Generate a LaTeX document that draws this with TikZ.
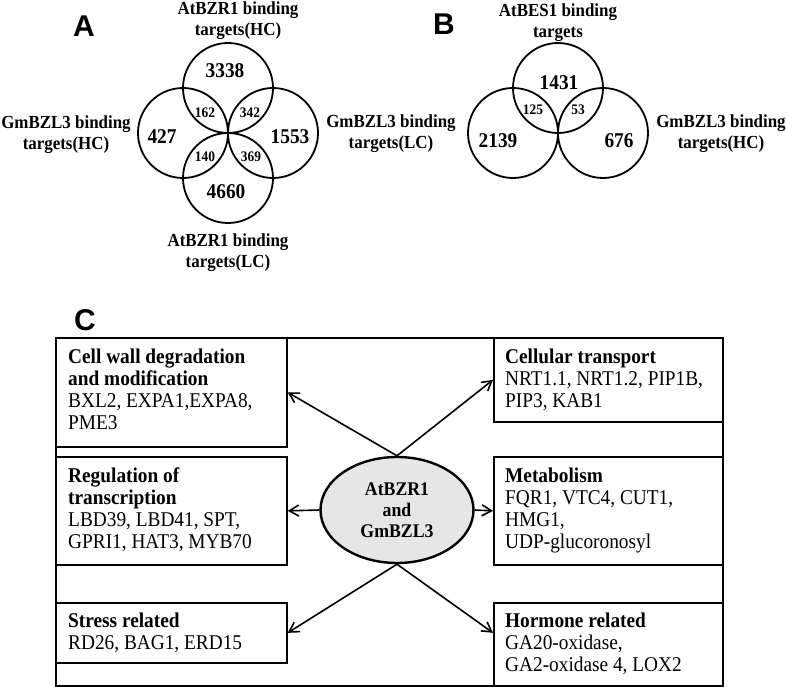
\documentclass[tikz,border=0pt]{standalone}
\usepackage{fontspec}
\setmainfont{Liberation Serif}[FakeStretch=0.92]
\newfontfamily\labsans{Liberation Sans}
\usetikzlibrary{arrows.meta,shapes.geometric}
\definecolor{ellfill}{HTML}{E6E6E6}
\tikzset{
  venn/.style={circle, draw, line width=1.8pt, minimum size=90pt, inner sep=0pt},
  setlabel/.style={font=\bfseries\fontsize{18.4}{21}\selectfont, align=center, inner sep=0pt},
  bignum/.style={font=\bfseries\fontsize{21}{22}\selectfont, inner sep=0pt},
  smallnum/.style={font=\bfseries\fontsize{14.6}{16}\selectfont, inner sep=0pt},
  panel/.style={font=\labsans\bfseries\fontsize{30}{32}\selectfont, inner sep=0pt},
  catbox/.style={draw, line width=1.7pt, rectangle, inner sep=0pt, anchor=north west},
  cattext/.style={font=\fontsize{21}{22}\selectfont, align=left, inner sep=0pt, anchor=north west},
  hub/.style={ellipse, draw, line width=2.4pt, fill=ellfill, minimum width=153pt, minimum height=106pt, inner sep=0pt,
    font=\bfseries\fontsize{19.3}{21}\selectfont, align=center},
  arr/.style={line width=1.6pt, -{Straight Barb[angle=60:11pt, line width=1.6pt]}}
}
\newcommand{\firststrut}{\rule{0pt}{15.5pt}}
\begin{document}
\begin{tikzpicture}[x=1pt, y=-1pt]
\useasboundingbox (0,0) rectangle (787,687);

% ---------- Panel A ----------
\node[panel] (pa) at (84,26) {A};
\node[venn] (atop) at (228,88) {};
\node[venn] (aleft) at (183,133) {};
\node[venn] (aright) at (273,133) {};
\node[venn] (abot) at (228,178) {};
\node[setlabel] (latop) at (238,20.5) {AtBZR1 binding\\targets(HC)};
\node[setlabel] (laleft) at (66,135) {GmBZL3 binding\\targets(HC)};
\node[setlabel] (laright) at (391,134) {GmBZL3 binding\\targets(LC)};
\node[setlabel] (labot) at (228,253) {AtBZR1 binding\\targets(LC)};
\node[bignum] (n3338) at (225,71) {3338};
\node[bignum] (n427) at (162,137) {427};
\node[bignum] (n1553) at (290,137) {1553};
\node[bignum] (n4660) at (226,192) {4660};
\node[smallnum] (n162) at (205,113) {162};
\node[smallnum] (n342) at (250,113) {342};
\node[smallnum] (n140) at (205,157) {140};
\node[smallnum] (n369) at (251,157) {369};

% ---------- Panel B ----------
\node[panel] (pb) at (444,24) {B};
\node[venn] (btop) at (558,88) {};
\node[venn] (bleft) at (513,133) {};
\node[venn] (bright) at (603,133) {};
\node[setlabel] (lbtop) at (558,23) {AtBES1 binding\\targets};
\node[setlabel] (lbright) at (721,134) {GmBZL3 binding\\targets(HC)};
\node[bignum] (n1431) at (559,83) {1431};
\node[bignum] (n2139) at (498,141) {2139};
\node[bignum] (n676) at (619,141) {676};
\node[smallnum] (n125) at (533,110) {125};
\node[smallnum] (n53) at (578,110) {53};

% ---------- Panel C ----------
\node[panel] (pc) at (85,320) {C};
\node[catbox, minimum width=667pt, minimum height=348pt] (outer) at (55,337) {};

\node[catbox, minimum width=231pt, minimum height=109pt] (tl) at (55,337) {};
\node[catbox, minimum width=231pt, minimum height=108pt] (ml) at (55,456) {};
\node[catbox, minimum width=231pt, minimum height=60pt] (bl) at (55,602) {};
\node[catbox, minimum width=229pt, minimum height=84pt] (tr) at (493,337) {};
\node[catbox, minimum width=229pt, minimum height=108pt] (mr) at (493,456) {};
\node[catbox, minimum width=229pt, minimum height=83pt] (br) at (493,602) {};

\node[cattext] (ttl) at (68,347.5) {\firststrut\textbf{Cell wall degradation}\\\textbf{and modification}\\BXL2, EXPA1,EXPA8,\\PME3};
\node[cattext] (tml) at (68,466.5) {\firststrut\textbf{Regulation of}\\\textbf{transcription}\\LBD39, LBD41, SPT,\\GPRI1, HAT3, MYB70};
\node[cattext] (tbl) at (68,611.5) {\firststrut\textbf{Stress related}\\RD26, BAG1, ERD15};
\node[cattext] (ttr) at (505,347.5) {\firststrut\textbf{Cellular transport}\\NRT1.1, NRT1.2, PIP1B,\\PIP3, KAB1};
\node[cattext] (tmr) at (505,466.5) {\firststrut\textbf{Metabolism}\\FQR1, VTC4, CUT1,\\HMG1,\\UDP-glucoronosyl};
\node[cattext] (tbr) at (505,611.5) {\firststrut\textbf{Hormone related}\\GA20-oxidase,\\GA2-oxidase 4, LOX2};

\node[hub] (hub) at (397,510) {AtBZR1\\and\\GmBZL3};

\draw[arr] (hub.north) -- (tl.east);
\draw[arr] (hub.north) -- (tr.west);
\draw[arr] (hub.west) -- (ml.east);
\draw[arr] (hub.east) -- (mr.west);
\draw[arr] (hub.south) -- (bl.east);
\draw[arr] (hub.south) -- (br.west |- bl.east);
\end{tikzpicture}
\end{document}
